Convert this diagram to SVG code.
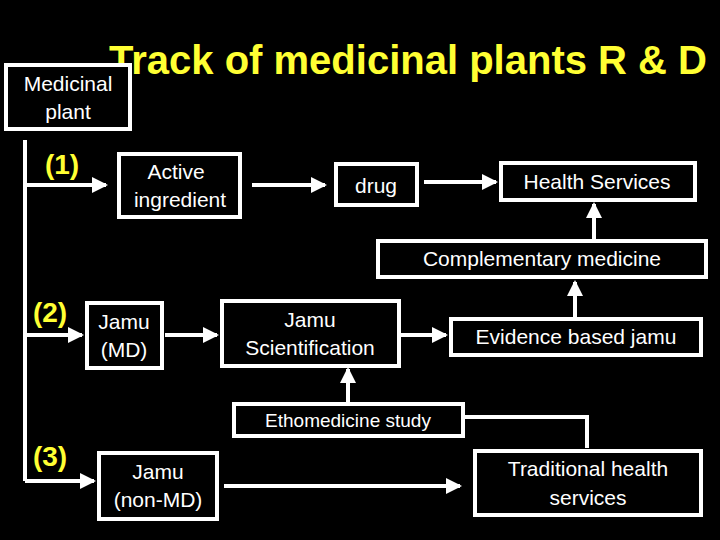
<svg xmlns="http://www.w3.org/2000/svg" width="720" height="540" viewBox="0 0 720 540">
<style>
.b{fill:#000;stroke:#fff;stroke-width:4}
.t{fill:#fff;font-family:"Liberation Sans",Arial,sans-serif;font-size:21px;text-anchor:middle}
.n{fill:#ffff33;font-family:"Liberation Sans",Arial,sans-serif;font-size:28px;font-weight:bold;text-anchor:middle}
.c{stroke:#fff;stroke-width:4;fill:none}
</style>
<defs><marker id="a" markerWidth="4" markerHeight="4" refX="3.5" refY="2" orient="auto"><path d="M0,0L4,2L0,4z" fill="#fff"/></marker></defs>
<rect width="720" height="540" fill="#000"/>
<text x="408" y="74" fill="#ffff33" font-family="Liberation Sans,Arial,sans-serif" font-size="40" font-weight="bold" text-anchor="middle">Track of medicinal plants R &amp; D</text>
<g id="connectors">
<path class="c" d="M25,140V481"/>
<path class="c" d="M25,185H106" marker-end="url(#a)"/>
<path class="c" d="M252,185H325" marker-end="url(#a)"/>
<path class="c" d="M424,182H496" marker-end="url(#a)"/>
<path class="c" d="M594,240V204" marker-end="url(#a)"/>
<path class="c" d="M575,318V282" marker-end="url(#a)"/>
<path class="c" d="M25,335H82" marker-end="url(#a)"/>
<path class="c" d="M165,335H217" marker-end="url(#a)"/>
<path class="c" d="M400,335H446" marker-end="url(#a)"/>
<path class="c" d="M348,404V369" marker-end="url(#a)"/>
<path class="c" d="M463,417H587V448"/>
<path class="c" d="M25,481H94" marker-end="url(#a)"/>
<path class="c" d="M224,486H460" marker-end="url(#a)"/>
</g>
<g id="n1"><rect class="b" x="6" y="65" width="124" height="64"/><text class="t" x="68" y="91">Medicinal</text><text class="t" x="68" y="119">plant</text></g>
<g id="n2"><rect class="b" x="119" y="154" width="121" height="63"/><text class="t" x="176" y="179">Active</text><text class="t" x="180" y="207">ingredient</text></g>
<g id="n3"><rect class="b" x="336" y="164" width="81" height="41"/><text class="t" x="376" y="193">drug</text></g>
<g id="n4"><rect class="b" x="501" y="163" width="194" height="37"/><text class="t" x="597" y="189">Health Services</text></g>
<g id="n5"><rect class="b" x="378" y="241" width="328" height="36"/><text class="t" x="542" y="266">Complementary medicine</text></g>
<g id="n6"><rect class="b" x="451" y="319" width="250" height="36"/><text class="t" x="576" y="344">Evidence based jamu</text></g>
<g id="n7"><rect class="b" x="222" y="301" width="177" height="65"/><text class="t" x="310" y="327">Jamu</text><text class="t" x="310" y="355">Scientification</text></g>
<g id="n8"><rect class="b" x="87" y="303" width="75" height="65"/><text class="t" x="124" y="329">Jamu</text><text class="t" x="124" y="357">(MD)</text></g>
<g id="n9"><rect class="b" x="234" y="404" width="229" height="32"/><text class="t" x="348" y="427" style="font-size:19px">Ethomedicine study</text></g>
<g id="n10"><rect class="b" x="99" y="453" width="118" height="66"/><text class="t" x="158" y="479">Jamu</text><text class="t" x="158" y="507">(non-MD)</text></g>
<g id="n11"><rect class="b" x="475" y="451" width="226" height="64"/><text class="t" x="588" y="476">Traditional health</text><text class="t" x="588" y="505">services</text></g>
<g id="labels"><text class="n" x="62" y="174">(1)</text><text class="n" x="50" y="322">(2)</text><text class="n" x="50" y="466">(3)</text></g>
</svg>
